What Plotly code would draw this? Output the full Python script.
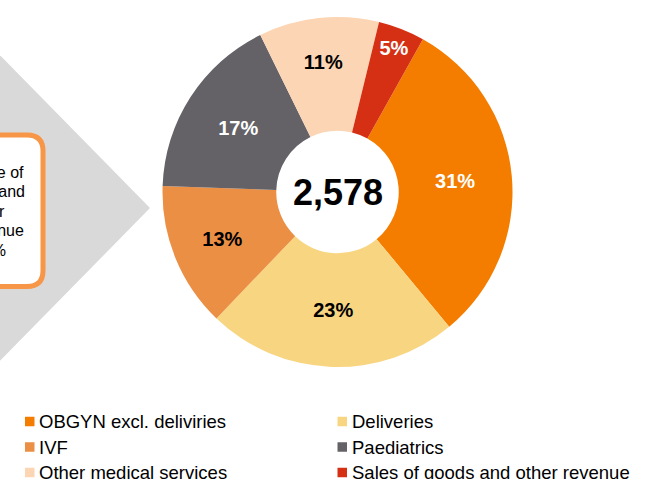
import plotly.graph_objects as go

# ---- data ----
categories = ["OBGYN excl. deliviries", "Deliveries", "IVF", "Paediatrics",
              "Other medical services", "Sales of goods and other revenue"]
shares = [30.9, 23.2, 13.4, 17.2, 11.1, 4.3]
pct_labels = ["31%", "23%", "13%", "17%", "11%", "5%"]
total_label = "2,578"
box_lines = ["Share of", "OBGYN and", "IVF in our", "revenue", "44%"]

colors = ["#F47D00", "#F8D580", "#EB8F45", "#646266", "#FCD5B4", "#D63014"]
label_colors = ["white", "black", "black", "white", "black", "white"]

W, H = 650, 479
FONT = "Liberation Sans, Arial, sans-serif"


def px(x):
    return x / W


def py(y):
    return 1 - y / H


fig = go.Figure()
fig.add_trace(go.Pie(
    labels=categories,
    values=shares,
    text=pct_labels,
    texttemplate="<b>%{text}</b>",
    textposition="inside",
    insidetextorientation="horizontal",
    textfont=dict(family=FONT, size=20, color=label_colors),
    marker=dict(colors=colors, line=dict(width=0)),
    hole=0.35,
    sort=False,
    direction="clockwise",
    rotation=29.2,
    showlegend=False,
    hoverinfo="label+percent",
    domain=dict(x=[px(162.5), px(512.5)], y=[py(367), py(17)]),
))

shapes = []
annotations = []

# grey arrow triangle
shapes.append(dict(type="path", xref="paper", yref="paper",
                   path=f"M {px(-60)},{py(-6)} L {px(150)},{py(208)} L {px(-60)},{py(422)} Z",
                   fillcolor="#D9D9D9", line=dict(width=0), layer="below"))

# rounded orange box (partly off-canvas)
x0, x1, y0, y1, r = -120, 43, 135, 286.5, 16
path = (f"M {px(x0)},{py(y0)} L {px(x1 - r)},{py(y0)} "
        f"Q {px(x1)},{py(y0)} {px(x1)},{py(y0 + r)} "
        f"L {px(x1)},{py(y1 - r)} "
        f"Q {px(x1)},{py(y1)} {px(x1 - r)},{py(y1)} "
        f"L {px(x0)},{py(y1)} Z")
shapes.append(dict(type="path", xref="paper", yref="paper", path=path,
                   fillcolor="white", line=dict(color="#F79646", width=5), layer="below"))

# box text, right-aligned so visible fragments match
line_right = [26, 27, 7, 26, 8]
line_y = [172, 191.5, 211, 230.5, 250]
for t, xr, yy in zip(box_lines, line_right, line_y):
    annotations.append(dict(text=t, xref="paper", yref="paper", x=px(xr), y=py(yy),
                            xanchor="right", yanchor="middle", showarrow=False,
                            font=dict(family=FONT, size=16, color="black")))

# center total
annotations.append(dict(text=f"<b>{total_label}</b>", xref="paper", yref="paper",
                        x=px(337.5), y=py(192), xanchor="center", yanchor="middle",
                        showarrow=False, font=dict(family=FONT, size=36, color="black")))

# custom legend (2 columns, row-major)
col_x = [25, 337.5]
row_y = [421.5, 447, 472.5]
for i, (name, c) in enumerate(zip(categories, colors)):
    cx = col_x[i % 2]
    ry = row_y[i // 2]
    shapes.append(dict(type="rect", xref="paper", yref="paper",
                       x0=px(cx), x1=px(cx + 9.5), y0=py(ry + 4.75), y1=py(ry - 4.75),
                       fillcolor=c, line=dict(width=0)))
    annotations.append(dict(text=name, xref="paper", yref="paper",
                            x=px(cx + 12), y=py(ry), xanchor="left", yanchor="middle",
                            showarrow=False, font=dict(family=FONT, size=18.5, color="black")))

fig.update_layout(
    width=W, height=H,
    margin=dict(l=0, r=0, t=0, b=0),
    paper_bgcolor="white", plot_bgcolor="white",
    shapes=shapes, annotations=annotations,
    uniformtext=dict(minsize=20, mode="show"),
)

fig.write_html("out.html",
               config={"displayModeBar": False},
               post_script="document.body.style.margin='0';document.body.style.overflow='hidden';")
